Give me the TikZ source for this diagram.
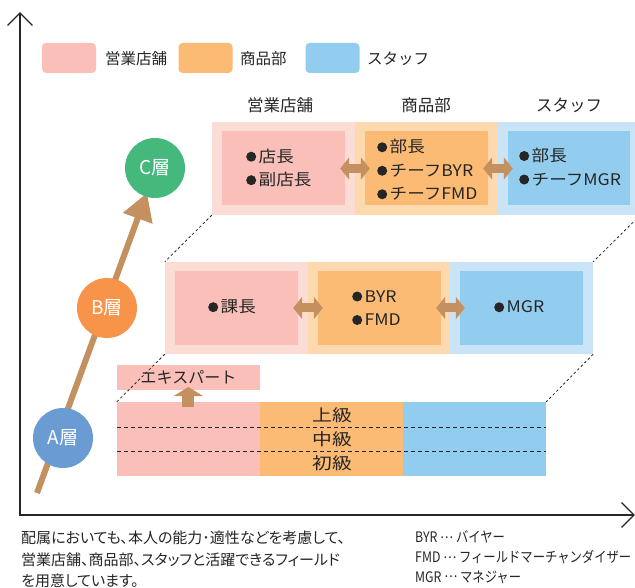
\documentclass[tikz,border=0pt]{standalone}
\usepackage{fontspec}
\setmainfont{Noto Sans CJK JP}
\newfontfamily\cjkn[FakeStretch=0.85]{Noto Sans CJK JP}
\newfontfamily\cjkw[FakeStretch=1.1]{Noto Sans CJK JP}
\newfontfamily\cjkww[FakeStretch=1.2]{Noto Sans CJK JP}
\newfontfamily\cjkp[RawFeature=+palt]{Noto Sans CJK JP}
\usetikzlibrary{arrows.meta}
\definecolor{pinkin}{HTML}{F9BFB8}
\definecolor{pinkout}{HTML}{FCDDD6}
\definecolor{orgin}{HTML}{FBBB74}
\definecolor{orgout}{HTML}{FDD9AF}
\definecolor{bluin}{HTML}{92CDF0}
\definecolor{bluout}{HTML}{C8E4F6}
\definecolor{brn}{HTML}{C49060}
\definecolor{txt}{HTML}{262626}
\definecolor{cgreen}{HTML}{45B97C}
\definecolor{borange}{HTML}{F7944A}
\definecolor{ablue}{HTML}{6A9BD2}
\newcommand{\bul}{\tikz[baseline=-5.6pt]\fill[txt] (0,0) circle[radius=5pt];\hspace{2.5pt}}
\newcommand{\midell}{\raisebox{0.3em}{…}}
\tikzset{
  box/.style={rectangle, inner sep=0pt, draw=none},
  celltext/.style={inner sep=0pt, align=left, text=txt, font=\cjkw\fontsize{16}{23.5}\selectfont},
  heading/.style={inner sep=0pt, text=txt, font=\fontsize{16.5}{16.5}\selectfont},
  legendlabel/.style={inner sep=0pt, text=txt, font=\fontsize{15.5}{15.5}\selectfont, anchor=west},
  legendbox/.style={rectangle, rounded corners=4pt, inner sep=0pt, minimum width=54pt, minimum height=30pt},
  lvl/.style={circle, minimum size=60pt, inner sep=0pt, text=white, font=\fontsize{19}{19}\selectfont},
  dbl/.style={draw=brn, line width=9pt, {Triangle[length=9pt,width=22pt]}-{Triangle[length=9pt,width=22pt]}},
  dotline/.style={draw=txt, line width=0.8pt, dash pattern=on 2.5pt off 2.5pt},
  gridline/.style={draw=txt, line width=0.8pt, dash pattern=on 4pt off 3pt},
  axis/.style={draw=txt, line width=1.1pt},
  grade/.style={inner sep=0pt, text=txt, font=\cjkww\fontsize{16.5}{16.5}\selectfont},
  foot/.style={inner sep=0pt, text=txt, font=\cjkp\fontsize{15}{15}\selectfont, anchor=west},
  footn/.style={inner sep=0pt, text=txt, font=\cjkn\fontsize{14.5}{14.5}\selectfont, anchor=west},
}
\begin{document}
\begin{tikzpicture}[x=1pt,y=-1pt]
\useasboundingbox (0,0) rectangle (635,588);
\fill[white] (0,0) rectangle (635,588);
% legend
\node[legendbox, fill=pinkin] (lg1) at (69,58) {};
\node[legendlabel] (lt1) at (105,59) {営業店舗};
\node[legendbox, fill=orgin] (lg2) at (205.5,58) {};
\node[legendlabel] (lt2) at (240,59) {商品部};
\node[legendbox, fill=bluin] (lg3) at (332.5,58) {};
\node[legendlabel] (lt3) at (367,59) {スタッフ};
% headings
\node[heading] (h1) at (280,105) {営業店舗};
\node[heading] (h2) at (426,105) {商品部};
\node[heading] (h3) at (569,105) {スタッフ};
% C row
\node[box, fill=pinkout, minimum width=143pt, minimum height=93pt] (cpo) at (283.5,168.5) {};
\node[box, fill=orgout, minimum width=143pt, minimum height=93pt] (coo) at (426.5,168.5) {};
\node[box, fill=bluout, minimum width=142pt, minimum height=93pt] (cbo) at (569,168.5) {};
\node[box, fill=pinkin, minimum width=123pt, minimum height=74pt] (cpi) at (283.5,168.5) {};
\node[box, fill=orgin, minimum width=123pt, minimum height=74pt] (coi) at (426.5,168.5) {};
\node[box, fill=bluin, minimum width=122pt, minimum height=74pt] (cbi) at (569,168.5) {};
\node[celltext, anchor=west] (cpt) at (246,168) {\bul 店長\\\bul 副店長};
\node[celltext, anchor=west] (cot) at (377,170) {\bul 部長\\\bul チーフBYR\\\bul チーフFMD};
\node[celltext, anchor=west] (cbt) at (519,167) {\bul 部長\\\bul チーフMGR};
\draw[dbl] ([xshift=-5pt]cpi.east) -- ([xshift=5pt]coi.west);
\draw[dbl] ([xshift=-5pt]coi.east) -- ([xshift=5pt]cbi.west);
% B row
\node[box, fill=pinkout, minimum width=143pt, minimum height=92pt] (bpo) at (236.5,308) {};
\node[box, fill=orgout, minimum width=142pt, minimum height=92pt] (boo) at (379,308) {};
\node[box, fill=bluout, minimum width=143pt, minimum height=92pt] (bbo) at (521.5,308) {};
\node[box, fill=pinkin, minimum width=123pt, minimum height=74pt] (bpi) at (236.5,308) {};
\node[box, fill=orgin, minimum width=123pt, minimum height=74pt] (boi) at (379.5,308) {};
\node[box, fill=bluin, minimum width=123pt, minimum height=74pt] (bbi) at (521.5,308) {};
\node[celltext, anchor=west] (bpt) at (208,307) {\bul 課長};
\node[celltext, anchor=west] (bot) at (352,308) {\bul BYR\\\bul FMD};
\node[celltext, anchor=west] (bbt) at (494,307) {\bul MGR};
\draw[dbl] ([xshift=-5pt]bpi.east) -- ([xshift=5pt]boi.west);
\draw[dbl] ([xshift=-5pt]boi.east) -- ([xshift=5pt]bbi.west);
% A row
\node[box, fill=pinkin, minimum width=143pt, minimum height=74pt] (ap) at (188.5,439) {};
\node[box, fill=orgin, minimum width=143pt, minimum height=74pt] (ao) at (331.5,439) {};
\node[box, fill=bluin, minimum width=143pt, minimum height=74pt] (ab) at (474.5,439) {};
\draw[gridline] (117,427) -- (546,427);
\draw[gridline] (117,451) -- (546,451);
\node[grade] (g1) at (332,415) {上級};
\node[grade] (g2) at (332,439) {中級};
\node[grade] (g3) at (332,463) {初級};
% expert
\node[box, fill=pinkin, minimum width=143pt, minimum height=25pt] (ex) at (188.5,377.5) {};
\node[inner sep=0pt, text=txt, font=\fontsize{16}{16}\selectfont] (ext) at (ex.center) {エキスパート};
\coordinate (upb) at (188.4,407);
\coordinate (upt) at (188.4,387);
\draw[draw=brn, line width=12pt, -{Triangle[length=9pt,width=29pt]}] (upb) -- (upt);
% dotted perspective lines
\draw[dotline] (cpo.south west) -- (bpo.north west);
\draw[dotline] (cbo.south east) -- (bbo.north east);
\draw[dotline] (bpo.south west) -- (ap.north west);
\draw[dotline] (bbo.south east) -- (ab.north east);
% level arrow and circles
\coordinate (lvs) at (37,493);
\coordinate (lvt) at (147,193);
\draw[draw=brn, line width=6pt, -{Triangle[length=27pt,width=30pt]}] (lvs) -- (lvt);
\node[lvl, fill=cgreen] (C) at (155,168) {C層};
\node[lvl, fill=borange] (B) at (107,308) {B層};
\node[lvl, fill=ablue] (A) at (63,438) {A層};
% axes
\coordinate (O) at (20,515);
\coordinate (Yt) at (20,13);
\coordinate (Xt) at (634,515);
\draw[axis] (Yt) -- (O) -- (Xt);
\draw[axis] ([shift={(-12.5,12.5)}]Yt) -- (Yt) -- ([shift={(12.5,12.5)}]Yt);
\draw[axis] ([shift={(-12.5,-12.5)}]Xt) -- (Xt) -- ([shift={(-12.5,12.5)}]Xt);
% footer
\node[foot] (f1) at (21,538) {配属においても、本人の能力･適性などを考慮して、};
\node[foot] (f2) at (21,560) {営業店舗、商品部、スタッフと活躍できるフィールド};
\node[foot] (f3) at (21,581) {を用意しています。};
\node[footn] (n1) at (415,537) {BYR \midell{} バイヤー};
\node[footn] (n2) at (415,557) {FMD \midell{} フィールドマーチャンダイザー};
\node[footn] (n3) at (415,577) {MGR \midell{} マネジャー};
\end{tikzpicture}
\end{document}
